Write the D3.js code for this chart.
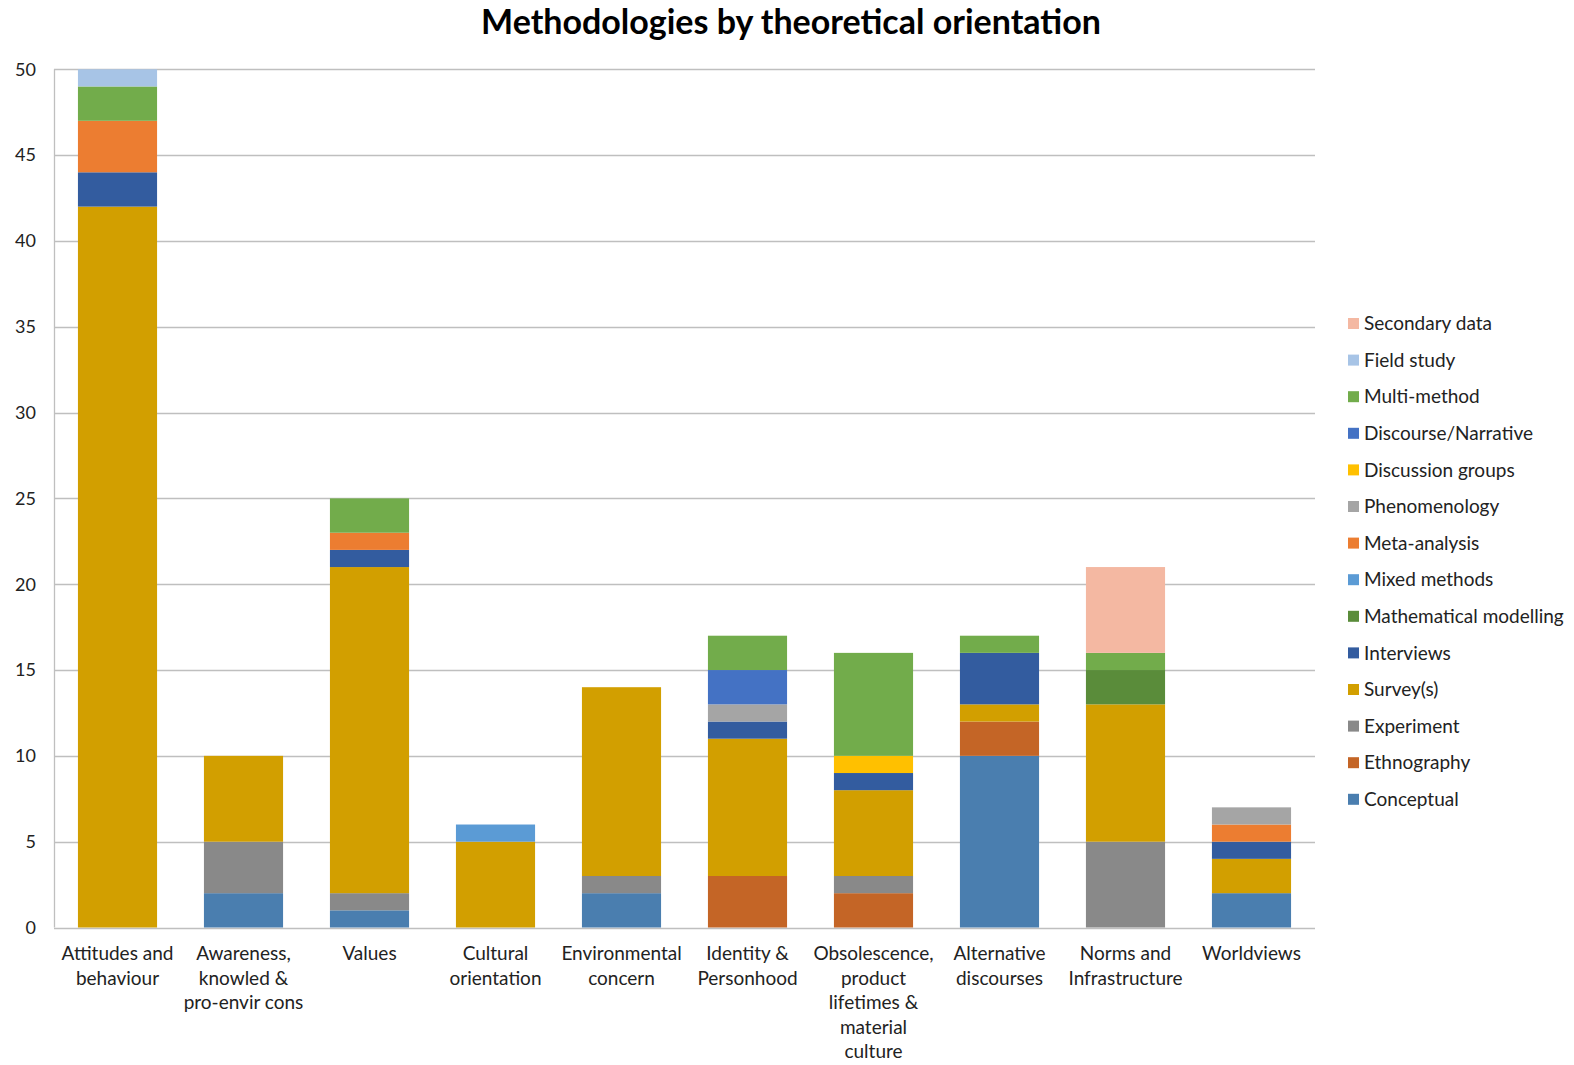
<!DOCTYPE html>
<html>
<head>
<meta charset="utf-8">
<script src="https://cdn.jsdelivr.net/npm/d3@7"></script>
<style>
  html, body { margin: 0; padding: 0; background: #fff; }
  svg { display: block; font-family: Lato, "Open Sans", sans-serif; }
</style>
</head>
<body>
<svg id="chart" width="1574" height="1065"></svg>
<script>
// Theoretical orientations (x axis), with their wrapped label lines
const categories = [
  "Attitudes and behaviour",
  "Awareness, knowled & pro-envir cons",
  "Values",
  "Cultural orientation",
  "Environmental concern",
  "Identity & Personhood",
  "Obsolescence, product lifetimes & material culture",
  "Alternative discourses",
  "Norms and Infrastructure",
  "Worldviews"
];
const categoryLines = [
  ["Attitudes and", "behaviour"],
  ["Awareness,", "knowled &", "pro-envir cons"],
  ["Values"],
  ["Cultural", "orientation"],
  ["Environmental", "concern"],
  ["Identity &", "Personhood"],
  ["Obsolescence,", "product", "lifetimes &", "material", "culture"],
  ["Alternative", "discourses"],
  ["Norms and", "Infrastructure"],
  ["Worldviews"]
];

// Methodologies, stacked bottom to top
const methods = [
  "Conceptual", "Ethnography", "Experiment", "Survey(s)", "Interviews",
  "Mathematical modelling", "Mixed methods", "Meta-analysis", "Phenomenology",
  "Discussion groups", "Discourse/Narrative", "Multi-method", "Field study", "Secondary data"
];
const methodColors = [
  "#4a7eaf", "#c46526", "#898989", "#d29f00", "#335c9f",
  "#5a8c3a", "#5b9bd5", "#ec7d31", "#a5a5a5",
  "#ffc000", "#4472c4", "#72ac4b", "#a7c4e6", "#f4b8a2"
];

// Number of studies per methodology, one value per orientation
const conceptual    = [0, 2, 1, 0, 2, 0, 0, 10, 0, 2];
const ethnography   = [0, 0, 0, 0, 0, 3, 2, 2, 0, 0];
const experiment    = [0, 3, 1, 0, 1, 0, 1, 0, 5, 0];
const surveys       = [42, 5, 19, 5, 11, 8, 5, 1, 8, 2];
const interviews    = [2, 0, 1, 0, 0, 1, 1, 3, 0, 1];
const mathModelling = [0, 0, 0, 0, 0, 0, 0, 0, 2, 0];
const mixedMethods  = [0, 0, 0, 1, 0, 0, 0, 0, 0, 0];
const metaAnalysis  = [3, 0, 1, 0, 0, 0, 0, 0, 0, 1];
const phenomenology = [0, 0, 0, 0, 0, 1, 0, 0, 0, 1];
const discussion    = [0, 0, 0, 0, 0, 0, 1, 0, 0, 0];
const discourse     = [0, 0, 0, 0, 0, 2, 0, 0, 0, 0];
const multiMethod   = [2, 0, 2, 0, 0, 2, 6, 1, 1, 0];
const fieldStudy    = [1, 0, 0, 0, 0, 0, 0, 0, 0, 0];
const secondaryData = [0, 0, 0, 0, 0, 0, 0, 0, 5, 0];

const yTicks = [0, 5, 10, 15, 20, 25, 30, 35, 40, 45, 50];

const seriesValues = [
  conceptual, ethnography, experiment, surveys, interviews, mathModelling,
  mixedMethods, metaAnalysis, phenomenology, discussion, discourse,
  multiMethod, fieldStudy, secondaryData
];

// Build rows for d3.stack
const rows = categories.map((c, i) => {
  const r = { category: c };
  methods.forEach((m, j) => { r[m] = seriesValues[j][i]; });
  return r;
});

const svg = d3.select("#chart");
const margin = { left: 54, right: 259, top: 69.3, bottom: 137.5 };
const W = 1574, H = 1065;

const x = d3.scaleBand()
  .domain(categories)
  .range([margin.left, W - margin.right])
  .paddingInner(0.372)
  .paddingOuter(0.19);

const y = d3.scaleLinear()
  .domain([0, 50])
  .range([H - margin.bottom, margin.top]);

const color = d3.scaleOrdinal().domain(methods).range(methodColors);

// Title
svg.append("text")
  .attr("x", 791)
  .attr("y", 34)
  .attr("text-anchor", "middle")
  .attr("font-size", 34)
  .attr("font-weight", "bold")
  .attr("fill", "#000")
  .text("Methodologies by theoretical orientation");

// Horizontal gridlines
svg.append("g")
  .selectAll("line")
  .data(yTicks)
  .join("line")
  .attr("x1", margin.left)
  .attr("x2", W - margin.right)
  .attr("y1", d => Math.round(y(d)) + 0.5)
  .attr("y2", d => Math.round(y(d)) + 0.5)
  .attr("stroke", "#bfbfbf")
  .attr("stroke-width", 1.3);

// Left axis line
svg.append("line")
  .attr("x1", margin.left + 0.5).attr("x2", margin.left + 0.5)
  .attr("y1", y(50)).attr("y2", y(0))
  .attr("stroke", "#bfbfbf").attr("stroke-width", 1.3);

// Stacked bars
const stacked = d3.stack().keys(methods)(rows);
svg.append("g")
  .selectAll("g")
  .data(stacked)
  .join("g")
  .attr("fill", d => color(d.key))
  .selectAll("rect")
  .data(d => d)
  .join("rect")
  .attr("x", d => x(d.data.category))
  .attr("width", x.bandwidth())
  .attr("y", d => y(d[1]))
  .attr("height", d => y(d[0]) - y(d[1]));

// Y tick labels
svg.append("g")
  .selectAll("text")
  .data(yTicks)
  .join("text")
  .attr("x", 36)
  .attr("y", d => y(d))
  .attr("dy", "0.35em")
  .attr("text-anchor", "end")
  .attr("font-size", 18)
  .attr("fill", "#222")
  .text(d => d);

// Category labels
const catG = svg.append("g")
  .selectAll("text")
  .data(categories)
  .join("text")
  .attr("text-anchor", "middle")
  .attr("font-size", 19)
  .attr("fill", "#222")
  .attr("transform", d => `translate(${x(d) + x.bandwidth() / 2}, 960)`);
catG.selectAll("tspan")
  .data((d, i) => categoryLines[i])
  .join("tspan")
  .attr("x", 0)
  .attr("dy", (d, i) => i === 0 ? 0 : 24.6)
  .text(d => d);

// Legend (top entry is the topmost series)
const legendOrder = methods.slice().reverse();
const leg = svg.append("g")
  .selectAll("g")
  .data(legendOrder)
  .join("g")
  .attr("transform", (d, i) => `translate(1348, ${323.5 + i * 36.6})`);
leg.append("rect")
  .attr("x", 0).attr("y", -5.5)
  .attr("width", 11).attr("height", 11)
  .attr("fill", d => color(d));
leg.append("text")
  .attr("x", 16)
  .attr("y", 0)
  .attr("dy", "0.35em")
  .attr("font-size", 19)
  .attr("fill", "#222")
  .text(d => d);
</script>
</body>
</html>
